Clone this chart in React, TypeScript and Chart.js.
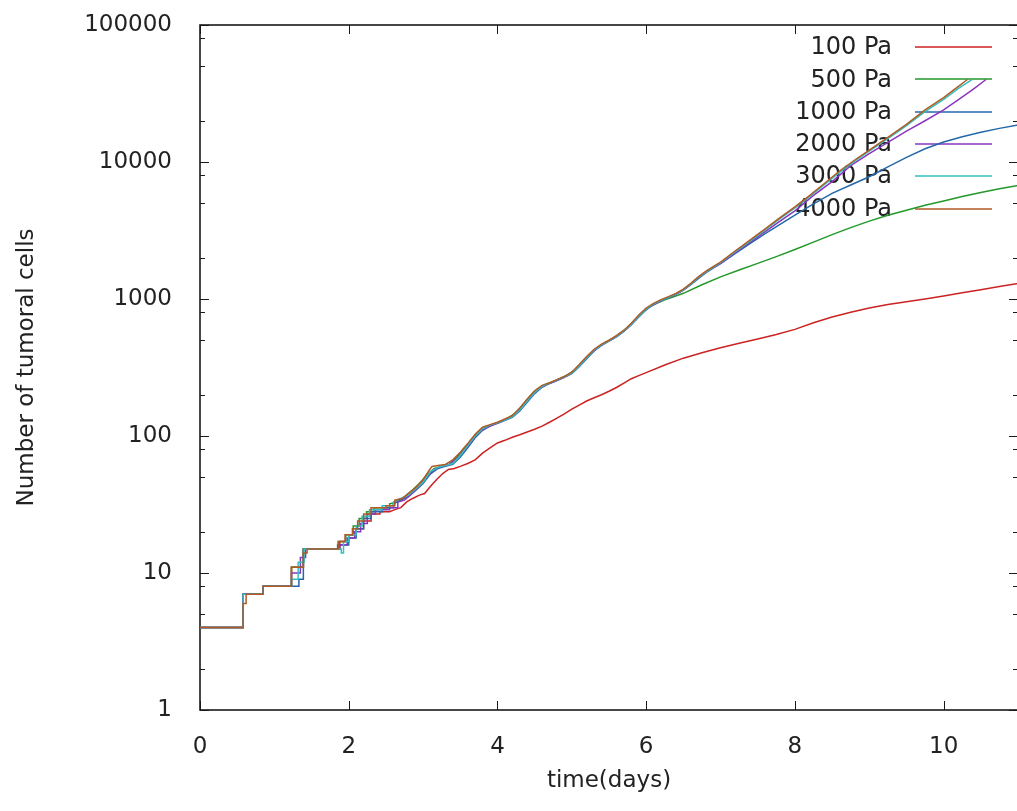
import React, { useEffect, useRef } from "react";
import { Chart, registerables } from "chart.js";

Chart.register(...registerables);

// ---- data ----
const seriesLabels = ["100 Pa", "500 Pa", "1000 Pa", "2000 Pa", "3000 Pa", "4000 Pa"];
const seriesColors = ["#cc2222", "#23992a", "#2468aa", "#8a35c0", "#33c0c0", "#b05a24"];

const xTickValues = [0, 2, 4, 6, 8, 10];
const yTickValues = [1, 10, 100, 1000, 10000, 100000];
const yMinorValues = [2, 5, 8, 20, 50, 80, 200, 500, 800, 2000, 5000, 8000, 20000, 50000, 80000];

const pa100: [number, number][] = [
  [0, 4], [0.58, 4], [0.58, 7], [0.85, 7], [0.85, 8], [1.23, 8], [1.23, 11], [1.39, 11], [1.39, 15],
  [1.88, 15], [1.88, 17], [2.0, 17], [2.0, 19], [2.1, 19], [2.1, 21], [2.2, 21], [2.2, 24], [2.3, 24],
  [2.3, 27], [2.42, 27], [2.42, 28], [2.55, 28], [2.62, 29], [2.7, 30], [2.78, 33], [2.86, 35],
  [2.95, 37], [3.02, 38], [3.1, 43], [3.18, 48], [3.26, 53], [3.34, 57], [3.42, 58], [3.5, 60],
  [3.6, 63], [3.7, 67], [3.8, 75], [3.9, 82], [4.0, 89], [4.1, 93], [4.2, 98], [4.3, 102], [4.4, 107],
  [4.5, 112], [4.6, 118], [4.7, 126], [4.8, 135], [4.9, 145], [5.0, 157], [5.1, 168], [5.2, 180],
  [5.3, 190], [5.4, 200], [5.5, 212], [5.6, 226], [5.7, 243], [5.8, 262], [5.9, 276], [6.0, 290],
  [6.25, 330], [6.5, 370], [6.75, 405], [7.0, 440], [7.25, 475], [7.5, 510], [7.75, 550], [8.0, 600],
  [8.25, 670], [8.5, 740], [8.75, 800], [9.0, 860], [9.25, 910], [9.5, 955], [9.75, 1000], [10.0, 1050],
  [10.25, 1110], [10.5, 1170], [10.75, 1235], [11.0, 1300],
];

const pa500: [number, number][] = [
  [0, 4], [0.58, 4], [0.58, 7], [0.85, 7], [0.85, 8], [1.23, 8], [1.23, 11], [1.39, 11], [1.39, 15],
  [1.86, 15], [1.86, 17], [1.96, 17], [1.96, 19], [2.06, 19], [2.06, 22], [2.14, 22], [2.14, 25],
  [2.24, 25], [2.24, 28], [2.34, 28], [2.34, 30], [2.55, 30], [2.55, 32], [2.65, 33], [2.75, 36],
  [2.85, 40], [2.95, 45], [3.05, 52], [3.15, 58], [3.25, 60], [3.35, 62], [3.45, 70], [3.55, 80],
  [3.65, 94], [3.75, 108], [3.85, 117], [3.95, 122], [4.05, 128], [4.15, 136], [4.25, 148], [4.35, 170],
  [4.45, 198], [4.55, 222], [4.65, 238], [4.75, 250], [4.85, 264], [4.95, 280], [5.05, 308], [5.15, 352],
  [5.25, 402], [5.35, 446], [5.45, 482], [5.55, 516], [5.65, 560], [5.75, 618], [5.85, 700], [5.95, 795],
  [6.05, 875], [6.15, 935], [6.25, 985], [6.35, 1030], [6.5, 1100], [6.75, 1270], [7.0, 1450],
  [7.25, 1630], [7.5, 1820], [7.75, 2040], [8.0, 2300], [8.25, 2600], [8.5, 2950], [8.75, 3320],
  [9.0, 3700], [9.25, 4080], [9.5, 4450], [9.75, 4830], [10.0, 5200], [10.25, 5600], [10.5, 6000],
  [10.75, 6380], [11.0, 6750],
];

const pa1000: [number, number][] = [
  [0, 4], [0.58, 4], [0.58, 7], [0.85, 7], [0.85, 8], [1.33, 8], [1.33, 9], [1.39, 9], [1.39, 15],
  [1.85, 15], [1.85, 16], [2.0, 16], [2.0, 18], [2.1, 18], [2.1, 21], [2.2, 21], [2.2, 25], [2.3, 25],
  [2.3, 28], [2.45, 28], [2.45, 30], [2.6, 30], [2.6, 32], [2.7, 34], [2.8, 36], [2.9, 40], [3.0, 45],
  [3.1, 53], [3.2, 58], [3.3, 60], [3.4, 62], [3.5, 70], [3.6, 82], [3.7, 97], [3.8, 110], [3.9, 118],
  [4.0, 124], [4.1, 130], [4.2, 137], [4.3, 152], [4.4, 176], [4.5, 204], [4.6, 227], [4.7, 241],
  [4.8, 254], [4.9, 268], [5.0, 285], [5.1, 320], [5.2, 366], [5.3, 418], [5.4, 458], [5.5, 492],
  [5.6, 530], [5.7, 580], [5.8, 648], [5.9, 740], [6.0, 835], [6.1, 912], [6.2, 975], [6.3, 1025],
  [6.4, 1085], [6.5, 1160], [6.6, 1270], [6.7, 1410], [6.8, 1550], [6.9, 1680], [7.0, 1810], [7.2, 2150],
  [7.4, 2550], [7.6, 3000], [7.8, 3500], [8.0, 4100], [8.25, 4950], [8.5, 5900], [8.75, 6800],
  [9.0, 7800], [9.25, 9200], [9.5, 10800], [9.75, 12500], [10.0, 14000], [10.25, 15300], [10.5, 16500],
  [10.75, 17600], [11.0, 18600],
];

const pa2000: [number, number][] = [
  [0, 4], [0.58, 4], [0.58, 7], [0.85, 7], [0.85, 8], [1.23, 8], [1.23, 10], [1.35, 10], [1.35, 13],
  [1.42, 13], [1.42, 15], [1.88, 15], [1.88, 16], [1.98, 16], [1.98, 18], [2.08, 18], [2.08, 20],
  [2.16, 20], [2.16, 23], [2.25, 23], [2.25, 27], [2.36, 27], [2.36, 29], [2.55, 29], [2.55, 30],
  [2.66, 30], [2.66, 33], [2.75, 34], [2.85, 38], [2.95, 43], [3.05, 50], [3.15, 57], [3.25, 60],
  [3.35, 62], [3.45, 68], [3.55, 78], [3.65, 92], [3.75, 106], [3.85, 115], [3.95, 121], [4.05, 127],
  [4.15, 134], [4.25, 146], [4.35, 168], [4.45, 196], [4.55, 220], [4.65, 236], [4.75, 248], [4.85, 262],
  [4.95, 278], [5.05, 305], [5.15, 348], [5.25, 398], [5.35, 442], [5.45, 478], [5.55, 512], [5.65, 556],
  [5.75, 615], [5.85, 700], [5.95, 800], [6.05, 880], [6.15, 945], [6.25, 1000], [6.35, 1055],
  [6.45, 1120], [6.55, 1220], [6.65, 1360], [6.75, 1500], [6.85, 1630], [7.0, 1820], [7.2, 2180],
  [7.4, 2600], [7.6, 3100], [7.8, 3700], [8.0, 4400], [8.25, 5700], [8.5, 7200], [8.75, 9400],
  [9.0, 11500], [9.25, 13900], [9.5, 16800], [9.75, 20000], [10.0, 24000], [10.2, 28500], [10.4, 34000],
  [10.57, 40000],
];

const pa3000: [number, number][] = [
  [0, 4], [0.58, 4], [0.58, 7], [0.85, 7], [0.85, 8], [1.23, 8], [1.23, 9], [1.32, 9], [1.32, 12],
  [1.4, 12], [1.4, 15], [1.9, 15], [1.9, 14], [1.93, 14], [1.93, 17], [2.0, 17], [2.0, 19], [2.1, 19],
  [2.1, 22], [2.18, 22], [2.18, 26], [2.28, 26], [2.28, 29], [2.45, 29], [2.45, 31], [2.6, 31],
  [2.6, 33], [2.7, 35], [2.8, 37], [2.9, 41], [3.0, 46], [3.1, 55], [3.2, 59], [3.3, 61], [3.4, 63],
  [3.5, 72], [3.6, 85], [3.7, 100], [3.8, 113], [3.9, 120], [4.0, 125], [4.1, 131], [4.2, 138],
  [4.3, 155], [4.4, 180], [4.5, 208], [4.6, 230], [4.7, 243], [4.8, 256], [4.9, 270], [5.0, 288],
  [5.1, 325], [5.2, 372], [5.3, 424], [5.4, 462], [5.5, 495], [5.6, 534], [5.7, 585], [5.8, 655],
  [5.9, 750], [6.0, 845], [6.1, 920], [6.2, 980], [6.3, 1030], [6.4, 1090], [6.5, 1170], [6.6, 1285],
  [6.7, 1430], [6.8, 1570], [6.9, 1700], [7.0, 1840], [7.2, 2220], [7.4, 2660], [7.6, 3200], [7.8, 3860],
  [8.0, 4620], [8.2, 5600], [8.4, 6850], [8.6, 8400], [8.8, 10100], [9.0, 12000], [9.25, 14800],
  [9.5, 18400], [9.75, 23300], [10.0, 28700], [10.2, 34500], [10.38, 40000],
];

const pa4000: [number, number][] = [
  [0, 4], [0.58, 4], [0.58, 6], [0.62, 6], [0.62, 7], [0.85, 7], [0.85, 8], [1.23, 8], [1.23, 11],
  [1.39, 11], [1.39, 14], [1.44, 14], [1.44, 15], [1.86, 15], [1.86, 17], [1.95, 17], [1.95, 19],
  [2.05, 19], [2.05, 21], [2.12, 21], [2.12, 24], [2.2, 24], [2.2, 27], [2.3, 27], [2.3, 30], [2.5, 30],
  [2.5, 31], [2.62, 31], [2.62, 34], [2.72, 35], [2.8, 38], [2.9, 42], [3.0, 48], [3.08, 56], [3.12, 60],
  [3.2, 61], [3.3, 62], [3.4, 67], [3.5, 76], [3.6, 88], [3.7, 103], [3.8, 116], [3.9, 121], [4.0, 126],
  [4.1, 133], [4.2, 141], [4.3, 160], [4.4, 186], [4.5, 214], [4.6, 234], [4.7, 245], [4.8, 258],
  [4.9, 272], [5.0, 292], [5.1, 332], [5.2, 380], [5.3, 430], [5.4, 468], [5.5, 500], [5.6, 540],
  [5.7, 592], [5.8, 665], [5.9, 765], [6.0, 860], [6.1, 930], [6.2, 990], [6.3, 1040], [6.4, 1100],
  [6.5, 1180], [6.6, 1300], [6.7, 1450], [6.8, 1590], [6.9, 1720], [7.0, 1860], [7.2, 2250], [7.4, 2700],
  [7.6, 3250], [7.8, 3920], [8.0, 4700], [8.2, 5700], [8.4, 7000], [8.6, 8600], [8.8, 10300],
  [9.0, 12200], [9.25, 15100], [9.5, 18800], [9.75, 24000], [10.0, 29500], [10.15, 34000],
  [10.32, 40000],
];

const seriesData = [pa100, pa500, pa1000, pa2000, pa3000, pa4000];

const FONT = "'DejaVu Sans', 'Liberation Sans', sans-serif";
const TEXT_COLOR = "#222222";

const framePlugin = {
  id: "gnuplotFrame",
  beforeDatasetsDraw(chart: any) {
    const { ctx, chartArea: a, scales } = chart;
    const xs = scales.x;
    const ys = scales.y;
    ctx.save();
    ctx.strokeStyle = "#1a1a1a";
    ctx.lineWidth = 1;
    ctx.beginPath();
    for (const v of xTickValues) {
      const px = Math.round(xs.getPixelForValue(v)) + 0.5;
      ctx.moveTo(px, a.bottom);
      ctx.lineTo(px, a.bottom - 9);
      ctx.moveTo(px, a.top);
      ctx.lineTo(px, a.top + 9);
    }
    for (const v of yTickValues) {
      const py = Math.round(ys.getPixelForValue(v)) + 0.5;
      ctx.moveTo(a.left, py);
      ctx.lineTo(a.left + 9, py);
      ctx.moveTo(a.right, py);
      ctx.lineTo(a.right - 9, py);
    }
    for (const v of yMinorValues) {
      const py = Math.round(ys.getPixelForValue(v)) + 0.5;
      ctx.moveTo(a.left, py);
      ctx.lineTo(a.left + 5, py);
      ctx.moveTo(a.right, py);
      ctx.lineTo(a.right - 5, py);
    }
    ctx.stroke();
    ctx.lineWidth = 1.6;
    ctx.strokeRect(a.left, a.top, a.right - a.left, a.bottom - a.top);

    // key (legend) in the top right corner
    ctx.font = `24px ${FONT}`;
    ctx.textAlign = "right";
    ctx.textBaseline = "middle";
    chart.data.datasets.forEach((ds: any, i: number) => {
      const y = 47 + i * 32.3;
      ctx.fillStyle = TEXT_COLOR;
      ctx.fillText(ds.label, 892, y + 1);
      ctx.strokeStyle = ds.borderColor;
      ctx.lineWidth = 1.5;
      ctx.beginPath();
      ctx.moveTo(915, Math.round(y));
      ctx.lineTo(992, Math.round(y));
      ctx.stroke();
    });
    ctx.restore();
  },
};

export default function App() {
  const canvasRef = useRef<HTMLCanvasElement | null>(null);

  useEffect(() => {
    const canvas = canvasRef.current;
    if (!canvas) return;
    const chart = new Chart(canvas, {
      type: "line",
      data: {
        datasets: seriesLabels.map((label, i) => ({
          label,
          data: seriesData[i].map(([t, n]) => ({ x: t, y: n })),
          borderColor: seriesColors[i],
          backgroundColor: seriesColors[i],
          borderWidth: 1.5,
          pointRadius: 0,
          tension: 0,
          fill: false,
          order: seriesLabels.length - 1 - i,
        })),
      },
      options: {
        animation: false,
        responsive: false,
        maintainAspectRatio: false,
        devicePixelRatio: 1,
        events: [],
        layout: { padding: { left: 0, right: 22, top: 25, bottom: 0 } },
        plugins: {
          legend: { display: false },
          tooltip: { enabled: false },
          title: { display: false },
        },
        scales: {
          x: {
            type: "linear",
            min: 0,
            max: 11,
            afterBuildTicks: (s: any) => {
              s.ticks = xTickValues.map((v) => ({ value: v }));
            },
            afterFit: (s: any) => {
              s.height = 101;
              s.paddingLeft = 0;
              s.paddingRight = 0;
            },
            grid: { display: false, drawTicks: false },
            border: { display: false },
            ticks: {
              color: TEXT_COLOR,
              font: { family: FONT, size: 23 },
              padding: 23,
              maxRotation: 0,
              autoSkip: false,
              callback: (v: any) => String(v),
            },
            title: {
              display: true,
              text: "time(days)",
              color: TEXT_COLOR,
              font: { family: FONT, size: 23 },
              padding: { top: 0, bottom: 16 },
            },
          },
          y: {
            type: "logarithmic",
            min: 1,
            max: 100000,
            afterBuildTicks: (s: any) => {
              s.ticks = yTickValues.map((v) => ({ value: v }));
            },
            afterFit: (s: any) => {
              s.width = 200;
              s.paddingTop = 0;
              s.paddingBottom = 0;
            },
            grid: { display: false, drawTicks: false },
            border: { display: false },
            ticks: {
              color: TEXT_COLOR,
              font: { family: FONT, size: 23 },
              padding: 28,
              autoSkip: false,
              callback: (v: any) => String(v),
            },
            title: {
              display: true,
              text: "Number of tumoral cells",
              color: TEXT_COLOR,
              font: { family: FONT, size: 23 },
              padding: { top: 13, bottom: 0 },
            },
          },
        },
      },
      plugins: [framePlugin],
    });
    return () => chart.destroy();
  }, []);

  return (
    <div
      style={{
        position: "fixed",
        left: 0,
        top: 0,
        width: 1017,
        height: 811,
        overflow: "hidden",
        background: "#ffffff",
      }}
    >
      <canvas
        ref={canvasRef}
        width={1040}
        height={811}
        style={{ display: "block", width: 1040, height: 811 }}
      />
    </div>
  );
}
